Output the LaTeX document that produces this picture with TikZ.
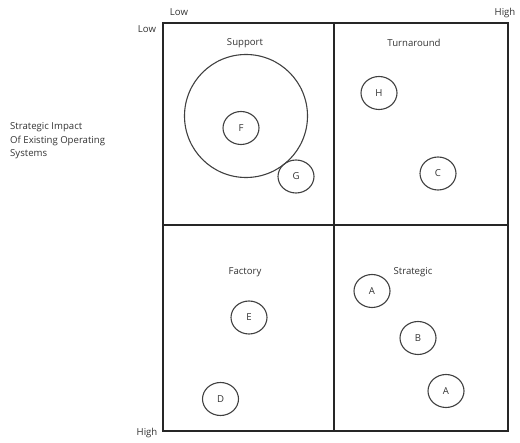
\documentclass[tikz,border=0pt]{standalone}
\usepackage{fontspec}
\setmainfont{Open Sans}
\usetikzlibrary{shapes.geometric}
\begin{document}
\begin{tikzpicture}[x=1pt,y=-1pt,
  lbl/.style={font=\fontsize{9.6}{13.5}\selectfont, text=black!80, inner sep=0pt},
  item/.style={ellipse, draw=black!75, line width=1.1pt, minimum width=36pt, minimum height=33pt, inner sep=0pt, font=\fontsize{9.6}{11}\selectfont, text=black!80},
  frame/.style={line width=2.6pt, draw=black!85},
  divider/.style={line width=1.6pt, draw=black!85}]
\useasboundingbox (0,0) rectangle (520,443);
% matrix frame and quadrant dividers
\coordinate (tl) at (163,23);
\coordinate (br) at (508,431);
\coordinate (mt) at (334,23);
\coordinate (mb) at (334,431);
\coordinate (ml) at (163,225);
\coordinate (mr) at (508,225);
\draw[divider] (mt) -- (mb);
\draw[divider] (ml) -- (mr);
\draw[frame] (tl) rectangle (br);
% axis end labels
\node[lbl] (lowtop) at (179,12) {Low};
\node[lbl] (hightop) at (505,13) {High};
\node[lbl] (lowleft) at (147,29) {Low};
\node[lbl] (highleft) at (147,433) {High};
\node[lbl, align=left, anchor=west] (axis) at (10,141) {Strategic Impact\\Of Existing Operating\\Systems};
% quadrant titles
\node[lbl] (support) at (245,43) {Support};
\node[lbl] (turnaround) at (414,43) {Turnaround};
\node[lbl] (factory) at (245,272) {Factory};
\node[lbl] (strategic) at (413,272) {Strategic};
% large circle around F
\node[circle, draw=black!75, line width=1.1pt, minimum size=123pt, inner sep=0pt] (big) at (246,116) {};
% items
\node[item] (F) at (241,128) {F};
\node[item] (G) at (296,176.5) {G};
\node[item] (H) at (379,93) {H};
\node[item] (C) at (438,173.5) {C};
\node[item] (E) at (249,317.5) {E};
\node[item] (D) at (220.5,399) {D};
\node[item] (A1) at (372,291) {A};
\node[item] (B) at (418,338) {B};
\node[item] (A2) at (446,391) {A};
\end{tikzpicture}
\end{document}
